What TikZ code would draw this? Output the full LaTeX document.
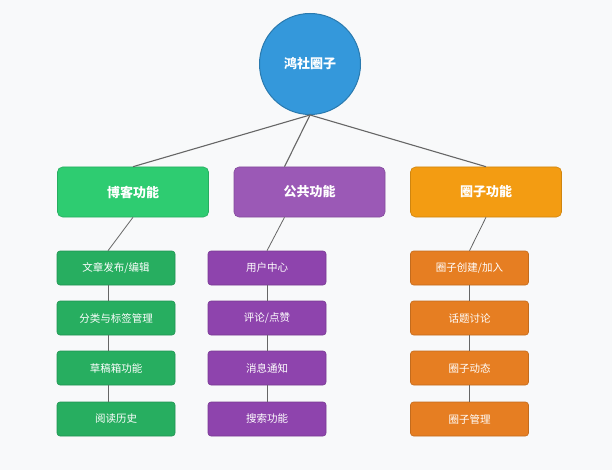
\documentclass[tikz,border=0pt]{standalone}
\usepackage{fontspec}
\setmainfont{Noto Sans CJK SC}
\begin{document}
\begin{tikzpicture}[x=1pt,y=-1pt,
  ln/.style={draw=black!60,line width=1.1pt},
  top/.style={draw=#1!85!black,fill=#1,rounded corners=5pt,minimum width=151pt,minimum height=50pt,text=white,font=\bfseries\fontsize{13}{15}\selectfont,line width=0.6pt},
  sub/.style={draw=#1!85!black,fill=#1,rounded corners=3pt,minimum width=118pt,minimum height=34pt,text=white,font=\fontsize{10.5}{12}\selectfont,line width=0.6pt}]
\definecolor{bg}{HTML}{F8F9FA}
\definecolor{cb}{HTML}{3498DB}
\definecolor{cg}{HTML}{2ECC71}\definecolor{cp}{HTML}{9B59B6}\definecolor{co}{HTML}{F39C12}
\definecolor{sg}{HTML}{27AE60}\definecolor{sp}{HTML}{8E44AD}\definecolor{so}{HTML}{E67E22}
\fill[bg] (0,0) rectangle (612,470);
\useasboundingbox (0,0) rectangle (612,470);
\node[circle,draw=cb!80!black,fill=cb,line width=1pt,minimum size=101pt,text=white,font=\bfseries\fontsize{13}{15}\selectfont] (root) at (310,64) {鸿社圈子};
\node[top=cg] (b) at (133,192) {博客功能};
\node[top=cp] (p) at (309.5,192) {公共功能};
\node[top=co] (q) at (486,192) {圈子功能};
\coordinate (rb) at (310,115);
\draw[ln] (rb) -- (b.north);
\draw[ln] (rb) -- ([xshift=-25pt]p.north);
\draw[ln] (rb) -- (q.north);
\foreach \n/\c/\x/\col/\a/\bb/\cc/\d in {g/b/116/sg/文章发布/编辑/分类与标签管理/草稿箱功能/阅读历史,
  m/p/267/sp/用户中心/评论/点赞/消息通知/搜索功能,
  o/q/469.5/so/圈子创建/加入/话题讨论/圈子动态/圈子管理}{}
% green
\node[sub=sg] (g1) at (116,268) {文章发布/编辑};
\node[sub=sg] (g2) at (116,318) {分类与标签管理};
\node[sub=sg] (g3) at (116,368) {草稿箱功能};
\node[sub=sg] (g4) at (116,419) {阅读历史};
% purple
\node[sub=sp] (m1) at (267,268) {用户中心};
\node[sub=sp] (m2) at (267,318) {评论/点赞};
\node[sub=sp] (m3) at (267,368) {消息通知};
\node[sub=sp] (m4) at (267,419) {搜索功能};
% orange
\node[sub=so] (o1) at (469.5,268) {圈子创建/加入};
\node[sub=so] (o2) at (469.5,318) {话题讨论};
\node[sub=so] (o3) at (469.5,368) {圈子动态};
\node[sub=so] (o4) at (469.5,419) {圈子管理};
\draw[ln,line width=0.8pt] (b.south) -- ([xshift=-8pt]g1.north);
\draw[ln,line width=0.8pt] ([xshift=-25pt]p.south) -- (m1.north);
\draw[ln,line width=0.8pt] (q.south) -- (o1.north);
\draw[ln,line width=0.8pt] ([xshift=-8pt]g1.south) -- ([xshift=-8pt]g2.north) ([xshift=-8pt]g2.south) -- ([xshift=-8pt]g3.north) ([xshift=-8pt]g3.south) -- ([xshift=-8pt]g4.north);
\draw[ln,line width=0.8pt] (m1) -- (m2) (m2) -- (m3) (m3) -- (m4);
\draw[ln,line width=0.8pt] (o1) -- (o2) (o2) -- (o3) (o3) -- (o4);
\end{tikzpicture}
\end{document}
